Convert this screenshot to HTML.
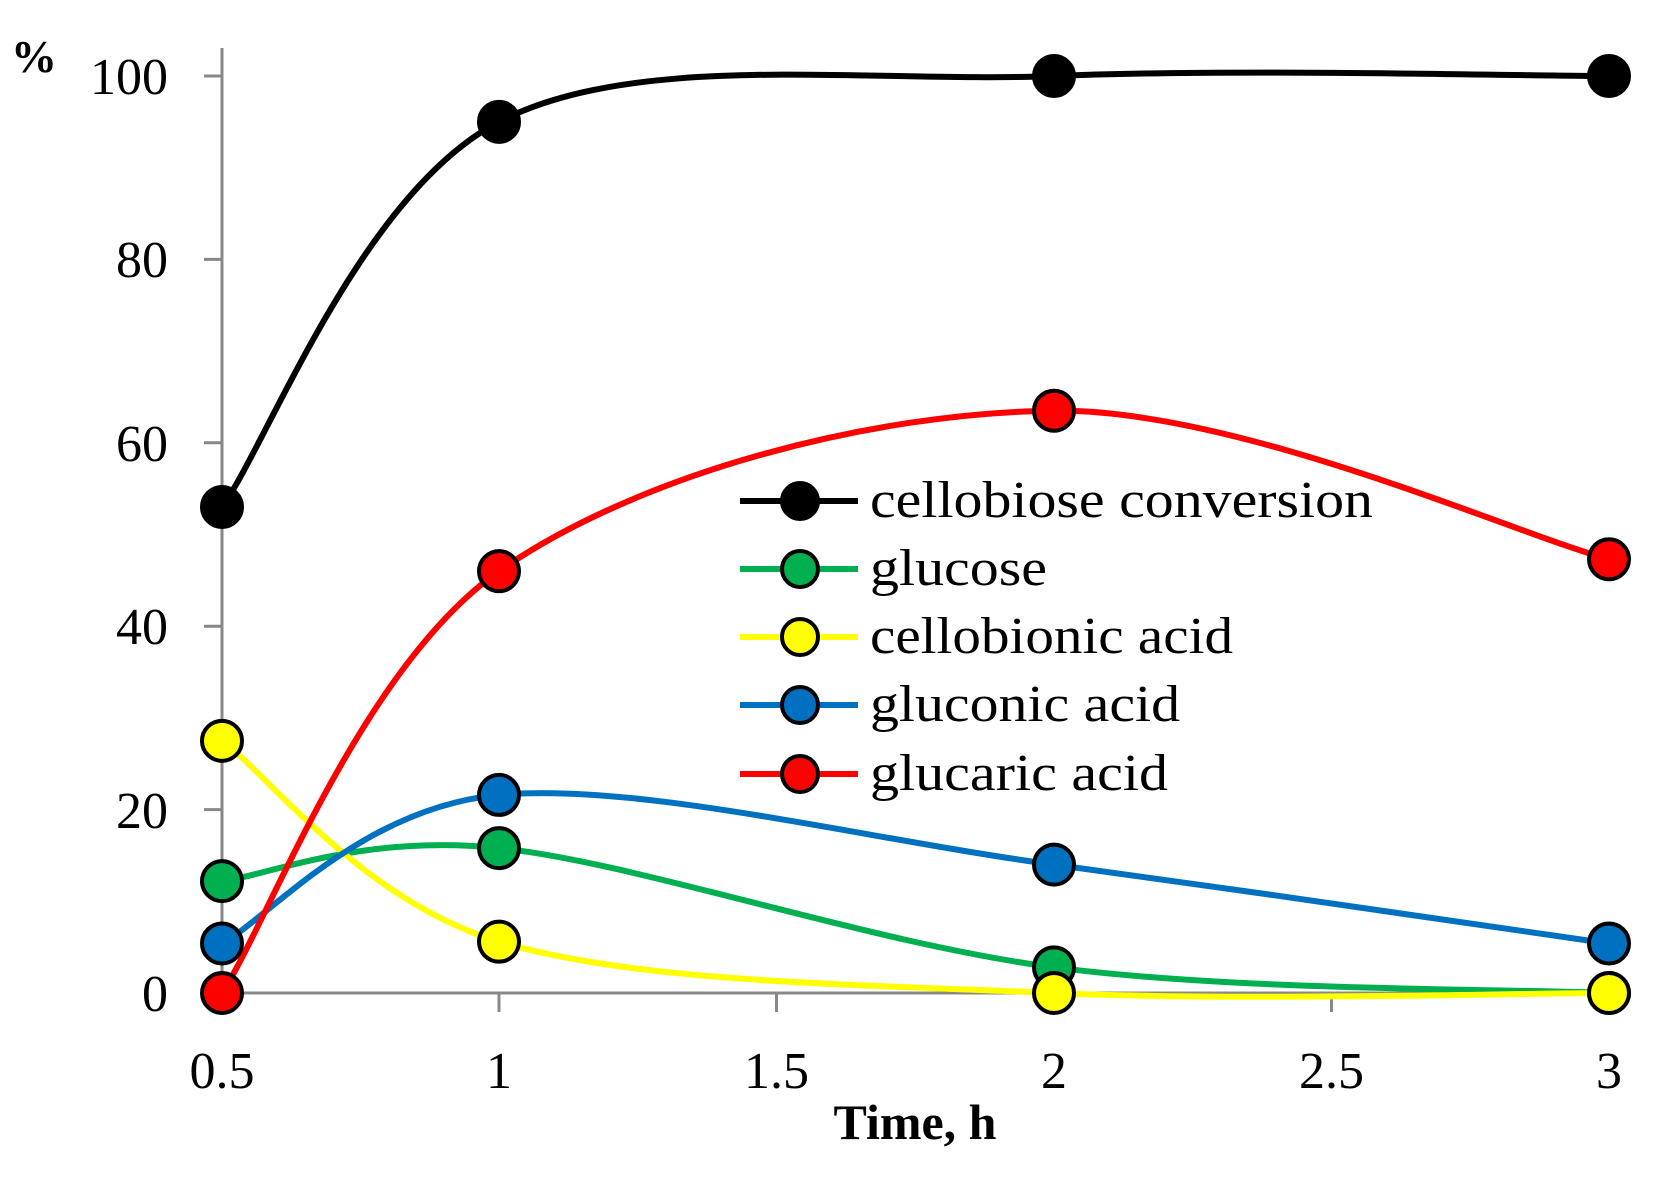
<!DOCTYPE html>
<html><head><meta charset="utf-8"><style>
html,body{margin:0;padding:0;background:#fff;}
svg{display:block;}
text{font-family:"Liberation Serif",serif;fill:#000;}
</style></head><body>
<svg id="s" width="1665" height="1178" viewBox="0 0 1665 1178" xmlns="http://www.w3.org/2000/svg">
<g stroke="#888" stroke-width="3" fill="none">
<line x1="222" y1="48" x2="222" y2="993"/>
<line x1="222" y1="993" x2="1609" y2="993"/>
<line x1="204" y1="76" x2="222" y2="76"/>
<line x1="204" y1="259.4" x2="222" y2="259.4"/>
<line x1="204" y1="442.8" x2="222" y2="442.8"/>
<line x1="204" y1="626.2" x2="222" y2="626.2"/>
<line x1="204" y1="809.6" x2="222" y2="809.6"/>
<line x1="204" y1="993" x2="222" y2="993"/>
<line x1="222" y1="993" x2="222" y2="1012"/>
<line x1="499" y1="993" x2="499" y2="1012"/>
<line x1="776.5" y1="993" x2="776.5" y2="1012"/>
<line x1="1054" y1="993" x2="1054" y2="1012"/>
<line x1="1331.5" y1="993" x2="1331.5" y2="1012"/>
<line x1="1609" y1="993" x2="1609" y2="1012"/>
</g>
<g font-size="52" text-anchor="end">
<text x="168" y="94">100</text>
<text x="168" y="277">80</text>
<text x="168" y="461">60</text>
<text x="168" y="644">40</text>
<text x="168" y="828">20</text>
<text x="168" y="1011">0</text>
</g>
<g font-size="52" text-anchor="middle">
<text x="222" y="1088">0.5</text>
<text x="499" y="1088">1</text>
<text x="776.5" y="1088">1.5</text>
<text x="1054" y="1088">2</text>
<text x="1331.5" y="1088">2.5</text>
<text x="1609" y="1088">3</text>
</g>
<text x="34" y="72" font-size="46" font-weight="bold" text-anchor="middle">%</text>
<text x="915" y="1139" font-size="50" font-weight="bold" text-anchor="middle">Time, h</text>
<g id="series"></g>
<g id="legend" font-size="52"></g>
</svg>
<script>
var X=[222,499,1054,1609];
function Y(v){return 993-v*9.17;}
var S=[
 ["#000000",[53,95,100,100],"cellobiose conversion",503],
 ["#00B050",[12.2,15.8,2.8,0],"glucose",177],
 ["#FFFF00",[27.5,5.6,0,0],"cellobionic acid",363],
 ["#0070C0",[5.4,21.6,14,5.4],"gluconic acid",310],
 ["#FF0000",[0,46,63.5,47.3],"glucaric acid",298]
];
var ns="http://www.w3.org/2000/svg",g=document.getElementById("series"),lg=document.getElementById("legend");
function el(t,a,p){var e=document.createElementNS(ns,t);for(var k in a)e.setAttribute(k,a[k]);p.appendChild(e);return e;}
var draw=function(s){
 var P=X.map(function(x,i){return [x,Y(s[1][i])];});
 var d="M"+P[0][0]+","+P[0][1];
 for(var i=0;i<3;i++){
  var p0=P[Math.max(i-1,0)],p1=P[i],p2=P[i+1],p3=P[Math.min(i+2,3)];
  var c1=[p1[0]+(p2[0]-p0[0])/6,p1[1]+(p2[1]-p0[1])/6];
  var c2=[p2[0]-(p3[0]-p1[0])/6,p2[1]-(p3[1]-p1[1])/6];
  d+=" C"+c1+" "+c2+" "+p2;
 }
 el("path",{d:d,fill:"none",stroke:s[0],"stroke-width":6},g);
 return P;
};
var pts=S.map(draw);
S.forEach(function(s,i){pts[i].forEach(function(p){el("circle",{cx:p[0],cy:p[1],r:20,fill:s[0],stroke:"#000","stroke-width":4},g);});});
var ly=[501,569,637,705,774];
S.forEach(function(s,i){
 el("line",{x1:740,y1:ly[i],x2:858,y2:ly[i],stroke:s[0],"stroke-width":6},lg);
 el("circle",{cx:800,cy:ly[i],r:18,fill:s[0],stroke:"#000","stroke-width":4},lg);
 var t=el("text",{x:870,y:ly[i]+16,textLength:s[3],lengthAdjust:"spacingAndGlyphs"},lg);t.textContent=s[2];
});
</script>
</body></html>
